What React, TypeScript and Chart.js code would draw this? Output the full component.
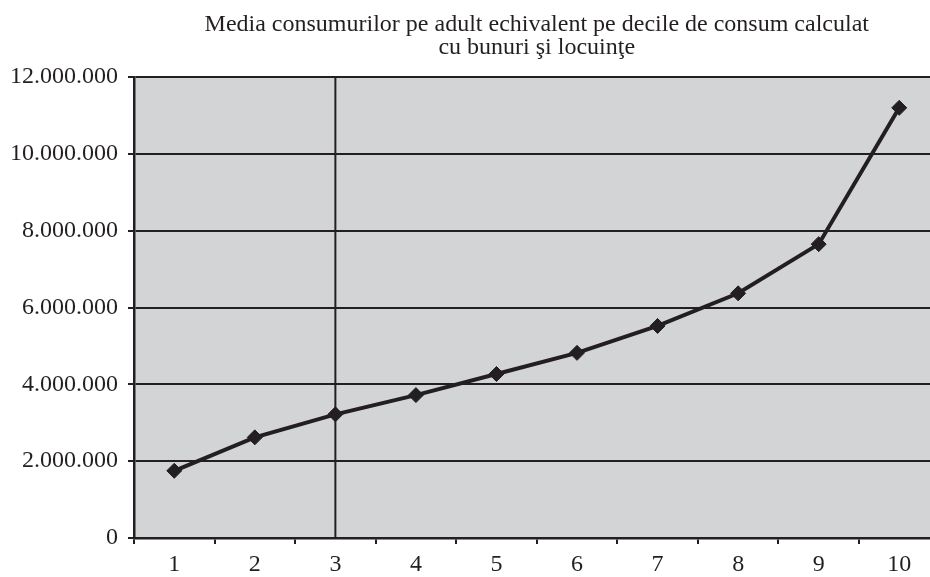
import React, { useEffect, useRef } from "react";
import { Chart, registerables } from "chart.js";

Chart.register(...registerables);

const titleLines = [
  "Media consumurilor pe adult echivalent pe decile de consum calculat",
  "cu bunuri şi locuinţe",
];
const categories = ["1", "2", "3", "4", "5", "6", "7", "8", "9", "10"];
const seriesValues = [
  1750000, 2620000, 3220000, 3720000, 4270000, 4820000, 5520000, 6370000, 7650000, 11200000,
];
const yTicks = [0, 2000000, 4000000, 6000000, 8000000, 10000000, 12000000];
const markedCategoryIndex = 2;

const INK = "#231f20";
const PLOT_BG = "#d3d4d6";
const FONT = "'Liberation Serif', 'DejaVu Serif', serif";
const CANVAS_W = 948;
const CANVAS_H = 577;

function fmt(v: number): string {
  const s = Math.round(v).toString();
  return s.replace(/\B(?=(\d{3})+(?!\d))/g, ".");
}

const bgPlugin = {
  id: "plotBg",
  beforeDraw(chart: any) {
    const { ctx, chartArea } = chart;
    if (!chartArea) return;
    ctx.save();
    ctx.fillStyle = PLOT_BG;
    ctx.fillRect(chartArea.left, chartArea.top, chartArea.right - chartArea.left, chartArea.bottom - chartArea.top);
    ctx.restore();
  },
};

const markerLinePlugin = {
  id: "markerLine",
  beforeDatasetsDraw(chart: any) {
    const { ctx, chartArea, scales } = chart;
    const x = scales.x.getPixelForValue(markedCategoryIndex);
    ctx.save();
    ctx.strokeStyle = INK;
    ctx.lineWidth = 2;
    ctx.beginPath();
    ctx.moveTo(x, chartArea.top);
    ctx.lineTo(x, chartArea.bottom);
    ctx.stroke();
    ctx.restore();
  },
};

export default function App() {
  const ref = useRef<HTMLCanvasElement | null>(null);
  useEffect(() => {
    document.body.style.margin = "0";
    document.body.style.overflow = "hidden";
    if (!ref.current) return;
    const chart = new Chart(ref.current, {
      type: "line",
      data: {
        labels: categories,
        datasets: [
          {
            data: seriesValues,
            borderColor: INK,
            borderWidth: 4,
            backgroundColor: INK,
            pointStyle: "rectRot",
            pointRadius: 7.5,
            pointBackgroundColor: INK,
            pointBorderColor: INK,
            pointBorderWidth: 1,
            tension: 0,
          },
        ],
      },
      options: {
        animation: false,
        responsive: false,
        layout: { padding: { left: 0, right: 0, top: 0, bottom: 0 } },
        plugins: {
          legend: { display: false },
          tooltip: { enabled: false },
          title: {
            display: true,
            text: titleLines,
            fullSize: false,
            color: INK,
            font: { family: FONT, size: 24, weight: "normal", lineHeight: 0.96 },
            padding: { top: 13, bottom: 18 },
          },
        },
        scales: {
          x: {
            type: "category",
            offset: true,
            afterFit(scale: any) {
              scale.height = 39;
            },
            grid: {
              display: true,
              offset: true,
              drawOnChartArea: false,
              drawTicks: true,
              tickLength: 6,
              color: INK,
              lineWidth: 2,
            },
            border: { display: true, color: INK, width: 2.5 },
            ticks: {
              color: INK,
              font: { family: FONT, size: 24 },
              padding: 6,
              maxRotation: 0,
              autoSkip: false,
            },
          },
          y: {
            min: 0,
            max: 12000000,
            afterFit(scale: any) {
              scale.width = 134;
            },
            afterBuildTicks(scale: any) {
              scale.ticks = yTicks.map((v) => ({ value: v }));
            },
            grid: {
              color: INK,
              lineWidth: 2,
              drawTicks: true,
              tickLength: 6,
            },
            border: { display: true, color: INK, width: 2.5 },
            ticks: {
              color: INK,
              font: { family: FONT, size: 24 },
              padding: 10,
              callback: (v: any) => fmt(Number(v)),
            },
          },
        },
      },
      plugins: [bgPlugin, markerLinePlugin],
    });
    return () => chart.destroy();
  }, []);
  return (
    <div style={{ position: "fixed", left: 0, top: 0, width: CANVAS_W, height: CANVAS_H }}>
      <canvas
        ref={ref}
        width={CANVAS_W}
        height={CANVAS_H}
        style={{ width: CANVAS_W, height: CANVAS_H, display: "block" }}
      />
    </div>
  );
}
